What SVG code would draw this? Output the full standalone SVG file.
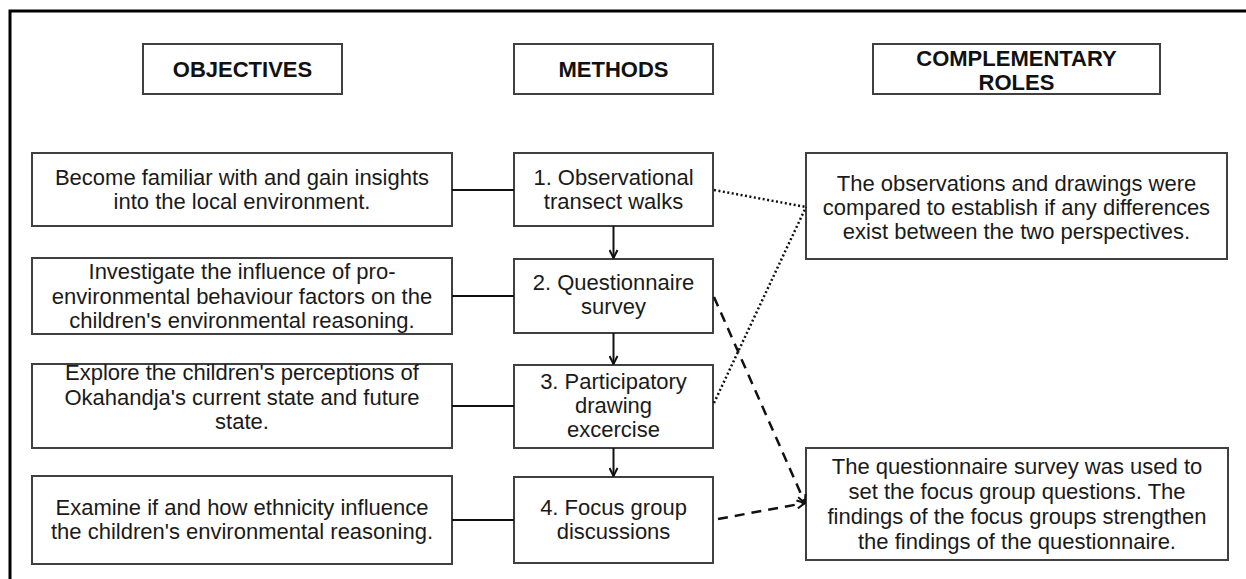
<svg xmlns="http://www.w3.org/2000/svg" width="1246" height="579" viewBox="0 0 1246 579">
  <style>
    .box { fill: #ffffff; stroke: #404040; stroke-width: 2; }
    .frame { fill: none; stroke: #000000; stroke-width: 3; }
    .txt { font-family: "Liberation Sans", Arial, sans-serif; font-size: 22px; fill: #1a1a1a; text-anchor: middle; }
    .hdr { font-family: "Liberation Sans", Arial, sans-serif; font-size: 22px; font-weight: bold; fill: #111111; text-anchor: middle; }
    .solid { fill: none; stroke: #111111; stroke-width: 2; }
    .dotted { fill: none; stroke: #111111; stroke-width: 2.5; stroke-dasharray: 2 2.5; }
    .dashed { fill: none; stroke: #111111; stroke-width: 2.5; stroke-dasharray: 10 7; }
  </style>
  <defs>
    <marker id="open" viewBox="0 0 10 10" refX="9" refY="5" markerWidth="10" markerHeight="10" markerUnits="userSpaceOnUse" orient="auto">
      <path d="M1,1 L9,5 L1,9" fill="none" stroke="#111111" stroke-width="2"/>
    </marker>
  </defs>
  <rect width="1246" height="579" fill="#ffffff"/>
  <rect class="frame" x="10" y="11" width="1260" height="600"/>

  <!-- column headers -->
  <g id="hdr-objectives">
    <rect class="box" x="143" y="44" width="199" height="50"/>
    <text class="hdr" x="242.5" y="77">OBJECTIVES</text>
  </g>
  <g id="hdr-methods">
    <rect class="box" x="514" y="44" width="199" height="50"/>
    <text class="hdr" x="613.5" y="77">METHODS</text>
  </g>
  <g id="hdr-roles">
    <rect class="box" x="873" y="44" width="287" height="50"/>
    <text class="hdr" x="1016.5" y="66">COMPLEMENTARY</text>
    <text class="hdr" x="1016.5" y="90">ROLES</text>
  </g>

  <!-- objectives -->
  <g id="obj1">
    <rect class="box" x="32" y="153" width="420" height="73"/>
    <text class="txt" x="242" y="185">Become familiar with and gain insights</text>
    <text class="txt" x="242" y="209">into the local environment.</text>
  </g>
  <g id="obj2">
    <rect class="box" x="32" y="258" width="420" height="76"/>
    <text class="txt" x="242" y="279">Investigate the influence of pro-</text>
    <text class="txt" x="242" y="303.5">environmental behaviour factors on the</text>
    <text class="txt" x="242" y="328">children's environmental reasoning.</text>
  </g>
  <g id="obj3">
    <rect class="box" x="32" y="364" width="420" height="84"/>
    <text class="txt" x="242" y="380">Explore the children's perceptions of</text>
    <text class="txt" x="242" y="404.5">Okahandja's current state and future</text>
    <text class="txt" x="242" y="429">state.</text>
  </g>
  <g id="obj4">
    <rect class="box" x="32" y="476" width="420" height="88"/>
    <text class="txt" x="242" y="515">Examine if and how ethnicity influence</text>
    <text class="txt" x="242" y="539">the children's environmental reasoning.</text>
  </g>

  <!-- methods -->
  <g id="m1">
    <rect class="box" x="514" y="153" width="199" height="73"/>
    <text class="txt" x="613.5" y="185">1. Observational</text>
    <text class="txt" x="613.5" y="209">transect walks</text>
  </g>
  <g id="m2">
    <rect class="box" x="514" y="259" width="199" height="74"/>
    <text class="txt" x="613.5" y="290">2. Questionnaire</text>
    <text class="txt" x="613.5" y="314">survey</text>
  </g>
  <g id="m3">
    <rect class="box" x="514" y="365" width="199" height="83"/>
    <text class="txt" x="613.5" y="389">3. Participatory</text>
    <text class="txt" x="613.5" y="413">drawing</text>
    <text class="txt" x="613.5" y="437">excercise</text>
  </g>
  <g id="m4">
    <rect class="box" x="514" y="477" width="199" height="86"/>
    <text class="txt" x="613.5" y="515">4. Focus group</text>
    <text class="txt" x="613.5" y="539">discussions</text>
  </g>

  <!-- complementary roles -->
  <g id="role1">
    <rect class="box" x="806" y="153" width="421" height="106"/>
    <text class="txt" x="1016.5" y="191">The observations and drawings were</text>
    <text class="txt" x="1016.5" y="215">compared to establish if any differences</text>
    <text class="txt" x="1016.5" y="239">exist between the two perspectives.</text>
  </g>
  <g id="role2">
    <rect class="box" x="806" y="448" width="422" height="112"/>
    <text class="txt" x="1017" y="474">The questionnaire survey was used to</text>
    <text class="txt" x="1017" y="499">set the focus group questions. The</text>
    <text class="txt" x="1017" y="524">findings of the focus groups strengthen</text>
    <text class="txt" x="1017" y="549">the findings of the questionnaire.</text>
  </g>

  <!-- connectors -->
  <g id="connectors">
    <line class="solid" x1="452" y1="190" x2="514" y2="190"/>
    <line class="solid" x1="452" y1="296" x2="514" y2="296"/>
    <line class="solid" x1="452" y1="406" x2="514" y2="406"/>
    <line class="solid" x1="452" y1="520" x2="514" y2="520"/>

    <line class="solid" x1="613.5" y1="226" x2="613.5" y2="258" marker-end="url(#open)"/>
    <line class="solid" x1="613.5" y1="333" x2="613.5" y2="364" marker-end="url(#open)"/>
    <line class="solid" x1="613.5" y1="448" x2="613.5" y2="476" marker-end="url(#open)"/>

    <line class="dotted" x1="714" y1="190" x2="806" y2="207"/>
    <line class="dotted" x1="714" y1="403" x2="806" y2="207"/>

    <line class="dashed" x1="714" y1="297" x2="805" y2="503" marker-end="url(#open)"/>
    <line class="dashed" x1="718" y1="519" x2="805" y2="503" marker-end="url(#open)"/>
  </g>
</svg>
